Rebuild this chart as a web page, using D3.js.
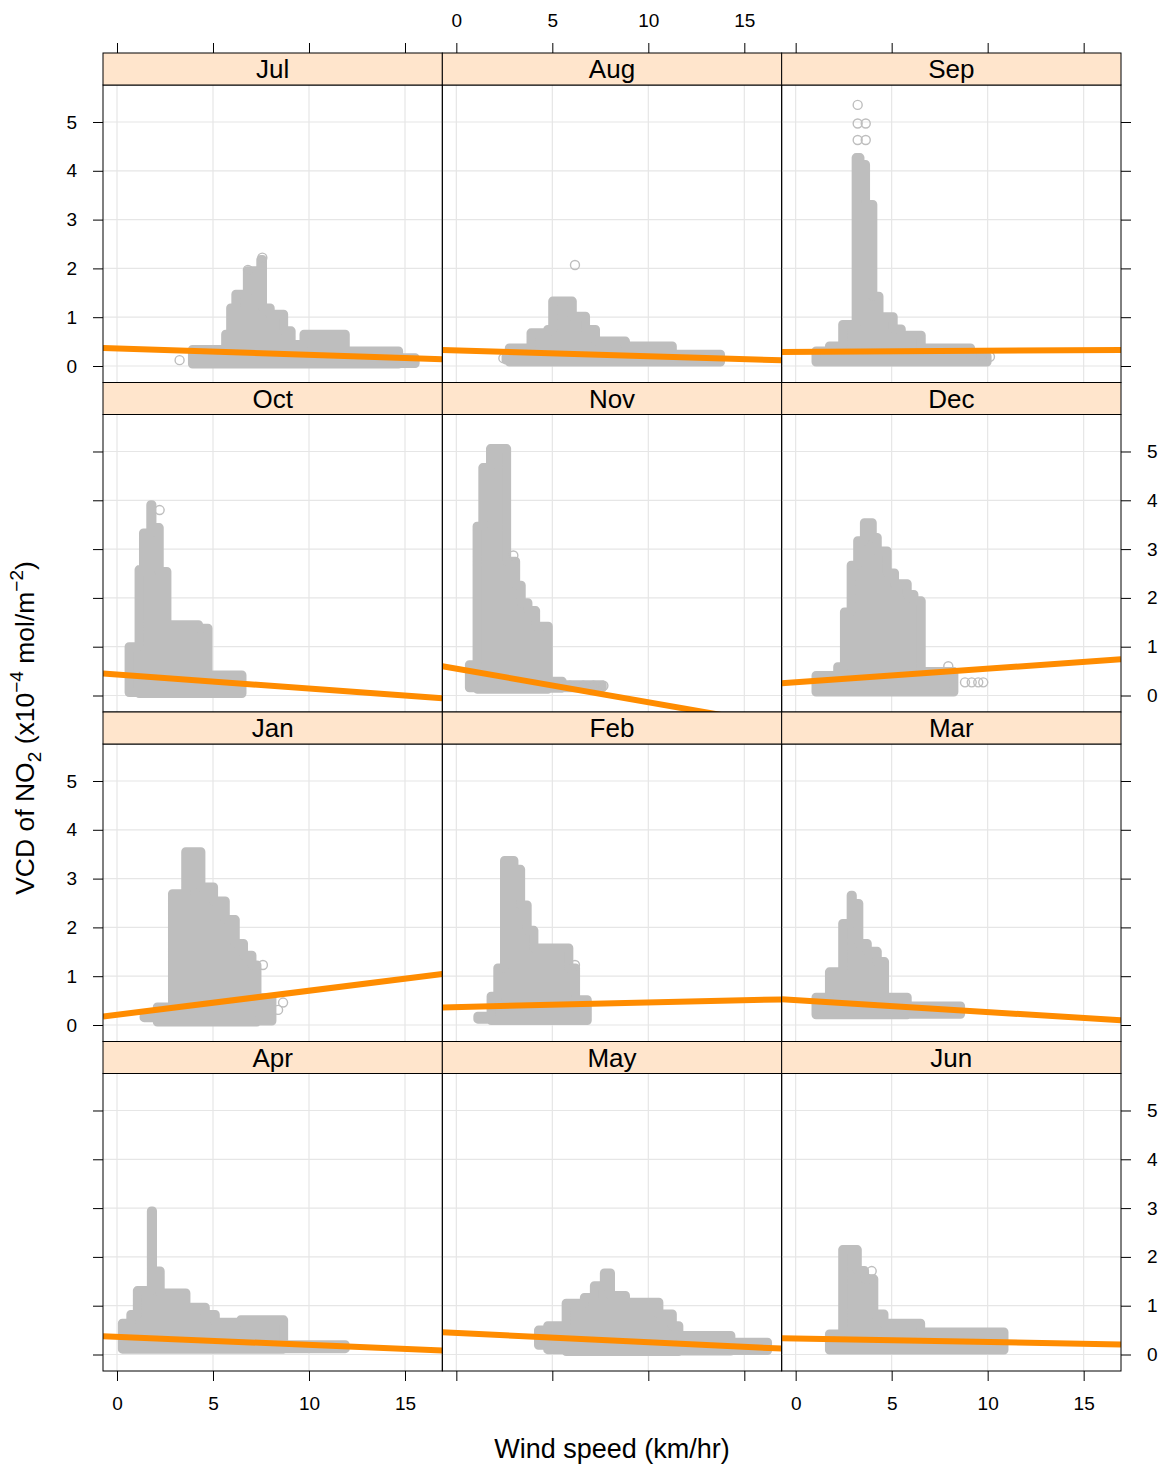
<!DOCTYPE html>
<html>
<head>
<meta charset="utf-8">
<script src="https://cdn.jsdelivr.net/npm/d3@7"></script>
<style>
  html, body { margin: 0; padding: 0; background: #fff; }
  svg { display: block; font-family: "Liberation Sans", Arial, Helvetica, sans-serif; }
</style>
</head>
<body>
<svg id="chart" width="1165" height="1468"></svg>
<script>
// ---------------- DATA ----------------
const months = ["Jul","Aug","Sep","Oct","Nov","Dec","Jan","Feb","Mar","Apr","May","Jun"];
const xTicks = [0, 5, 10, 15];
const yTicks = [0, 1, 2, 3, 4, 5];
const xTickLabels = ["0", "5", "10", "15"];
const yTickLabels = ["0", "1", "2", "3", "4", "5"];
const xTitle = "Wind speed (km/hr)";

// regression line per month: intercept (at 0 km/hr) and slope
const lineIntercept = [0.36, 0.32, 0.29, 0.43, 0.55, 0.27, 0.21, 0.367, 0.51, 0.363, 0.443, 0.329];
const lineSlope = [-0.013, -0.0119, 0.0023, -0.0288, -0.0688, 0.028, 0.0492, 0.0093, -0.0244, -0.0167, -0.019, -0.0073];

// point clouds read as step columns: [wind speed start, lowest VCD, highest VCD]
const profJul = [[3.93,0.04,0.34],[5.66,0.04,0.65],[5.92,0.04,1.19],[6.19,0.04,1.47],[6.79,0.04,1.95],[7.49,0.04,2.18],[7.58,0.04,1.19],[7.98,0.04,1.06],[8.68,0.04,0.72],[9.07,0.04,0.44],[9.74,0.04,0.65],[11.89,0.04,0.31],[14.67,0.05,0.17],[15.53,0.05,0.17]];
const profAug = [[2.59,0.12,0.2],[2.76,0.08,0.37],[3.89,0.08,0.68],[4.76,0.08,0.75],[5.02,0.08,1.33],[6.04,0.08,1.02],[6.73,0.08,0.75],[7.25,0.08,0.51],[8.81,0.08,0.41],[11.25,0.08,0.24],[13.76,0.1,0.24]];
const profSep = [[1.06,0.08,0.31],[1.76,0.08,0.41],[2.45,0.08,0.85],[3.15,0.08,4.27],[3.35,0.08,4.13],[3.64,0.08,3.31],[4.02,0.08,1.43],[4.34,0.08,1.01],[5.08,0.08,0.76],[5.5,0.08,0.63],[6.54,0.08,0.37],[9.11,0.08,0.2],[9.97,0.1,0.2]];
const profOct = [[0.63,0.06,1.0],[1.15,0.04,2.58],[1.38,0.04,3.33],[1.76,0.04,3.91],[1.82,0.04,3.44],[2.2,0.04,2.54],[2.6,0.04,1.45],[4.25,0.04,1.38],[4.74,0.04,0.42],[6.51,0.06,0.42]];
const profNov = [[0.68,0.16,0.63],[1.08,0.13,3.47],[1.38,0.13,4.67],[1.78,0.13,5.06],[2.62,0.13,2.75],[3.09,0.13,2.26],[3.38,0.13,1.9],[3.73,0.13,1.74],[4.13,0.13,1.42],[4.79,0.15,0.29],[5.52,0.16,0.22],[7.6,0.16,0.22]];
const profDec = [[1.06,0.07,0.41],[2.19,0.07,0.59],[2.54,0.07,1.71],[2.89,0.07,2.67],[3.23,0.07,3.17],[3.58,0.07,3.54],[3.99,0.07,3.24],[4.25,0.07,2.96],[4.77,0.07,2.51],[5.15,0.07,2.29],[5.81,0.07,2.07],[6.16,0.07,1.94],[6.54,0.07,0.49],[8.24,0.1,0.49]];
const profJan = [[1.41,0.15,0.18],[2.1,0.06,0.37],[2.89,0.06,2.69],[3.58,0.06,3.55],[4.37,0.06,2.83],[5.03,0.06,2.54],[5.64,0.06,2.16],[6.16,0.06,1.67],[6.59,0.06,1.43],[7.03,0.06,1.23],[7.29,0.08,0.56],[8.07,0.1,0.56]];
const profFeb = [[1.12,0.12,0.18],[1.81,0.09,0.59],[2.16,0.09,1.17],[2.51,0.09,3.37],[3.0,0.09,3.19],[3.35,0.09,2.46],[3.69,0.09,1.94],[4.04,0.09,1.58],[5.86,0.09,1.17],[6.21,0.09,0.52],[6.82,0.1,0.52]];
const profMar = [[1.06,0.21,0.57],[1.76,0.21,1.09],[2.45,0.21,2.08],[2.89,0.21,2.66],[2.95,0.21,2.49],[3.29,0.21,1.67],[3.73,0.21,1.51],[4.25,0.21,1.3],[4.63,0.21,0.57],[5.81,0.22,0.39],[8.59,0.25,0.39]];
const profApr = [[0.28,0.11,0.64],[0.72,0.11,0.82],[1.06,0.11,1.31],[1.79,0.11,2.94],[1.85,0.11,1.71],[2.25,0.11,1.26],[3.59,0.11,0.97],[4.6,0.11,0.82],[5.12,0.11,0.66],[6.44,0.11,0.71],[8.68,0.12,0.2],[11.89,0.13,0.2]];
const profMay = [[4.28,0.19,0.5],[4.76,0.1,0.59],[5.72,0.06,1.05],[6.67,0.06,1.17],[7.19,0.06,1.41],[7.71,0.06,1.67],[8.03,0.06,1.21],[8.81,0.06,1.07],[10.55,0.06,0.83],[11.25,0.06,0.59],[11.59,0.07,0.39],[14.3,0.08,0.25],[16.21,0.1,0.25]];
const profJun = [[1.76,0.09,0.42],[2.45,0.09,2.15],[3.21,0.09,1.72],[3.59,0.09,1.55],[4.07,0.09,0.83],[4.6,0.09,0.64],[6.51,0.09,0.46],[10.85,0.1,0.46]];

// isolated points visible as rings: [wind speed, VCD]
const ringsJul = [[3.26,0.12],[7.57,2.22],[6.82,1.97]];
const ringsAug = [[6.18,2.07],[2.45,0.16]];
const ringsSep = [[3.23,5.35],[3.23,4.97],[3.65,4.97],[3.23,4.63],[3.65,4.63],[9.69,0.19],[10.12,0.19]];
const ringsOct = [[2.22,3.8]];
const ringsNov = [[2.97,2.87],[5.92,0.2],[6.61,0.2],[7.14,0.2],[7.66,0.2]];
const ringsDec = [[7.95,0.6],[8.82,0.27],[9.17,0.27],[9.51,0.27],[9.77,0.27]];
const ringsJan = [[7.6,1.23],[8.65,0.46],[8.39,0.31]];
const ringsFeb = [[6.18,1.23]];
const ringsMar = [];
const ringsApr = [];
const ringsMay = [];
const ringsJun = [[3.96,1.71]];

const profiles = [profJul, profAug, profSep, profOct, profNov, profDec, profJan, profFeb, profMar, profApr, profMay, profJun];
const rings = [ringsJul, ringsAug, ringsSep, ringsOct, ringsNov, ringsDec, ringsJan, ringsFeb, ringsMar, ringsApr, ringsMay, ringsJun];

// ---------------- LAYOUT ----------------
const svg = d3.select("#chart");
const L = 103, R = 1121, T = 53, B = 1371;
const nCols = 3, nRows = 4, stripH = 32;
const colW = (R - L) / nCols, rowH = (B - T) / nRows;
const xDomain = [-0.729, 16.945];
const yDomain = [-0.338, 5.758];
const ptColor = "#BEBEBE", lineColor = "#FF8C00", gridColor = "#E6E6E6";
const r = 4.5;

const defs = svg.append("defs");

function xs(c) { const x0 = L + c * colW; return d3.scaleLinear().domain(xDomain).range([x0, x0 + colW]); }
function ys(rw) { const top = T + rw * rowH + stripH, bot = T + (rw + 1) * rowH; return d3.scaleLinear().domain(yDomain).range([bot, top]); }

months.forEach((m, i) => {
  const rw = Math.floor(i / nCols), c = i % nCols;
  const x = xs(c), y = ys(rw);
  const x0 = L + c * colW, rowTop = T + rw * rowH;
  const pTop = rowTop + stripH, pBot = rowTop + rowH;
  const g = svg.append("g");

  defs.append("clipPath").attr("id", "clip" + i)
    .append("rect").attr("x", x0).attr("y", pTop).attr("width", colW).attr("height", pBot - pTop);

  const inner = g.append("g").attr("clip-path", "url(#clip" + i + ")");
  // grid
  inner.selectAll("line.gx").data(xTicks).join("line")
    .attr("x1", d => x(d)).attr("x2", d => x(d)).attr("y1", pTop).attr("y2", pBot)
    .attr("stroke", gridColor).attr("stroke-width", 1.2);
  inner.selectAll("line.gy").data(yTicks).join("line")
    .attr("x1", x0).attr("x2", x0 + colW).attr("y1", d => y(d)).attr("y2", d => y(d))
    .attr("stroke", gridColor).attr("stroke-width", 1.2);

  // point cloud
  const area = d3.area().x(d => x(d[0])).y0(d => y(d[1])).y1(d => y(d[2])).curve(d3.curveStepAfter);
  inner.append("path").datum(profiles[i]).attr("d", area)
    .attr("fill", ptColor).attr("stroke", ptColor).attr("stroke-width", 2 * r).attr("stroke-linejoin", "round");
  inner.selectAll("circle").data(rings[i]).join("circle")
    .attr("cx", d => x(d[0])).attr("cy", d => y(d[1])).attr("r", r)
    .attr("fill", "none").attr("stroke", ptColor).attr("stroke-width", 1.4);

  // regression line
  const a = lineIntercept[i], b = lineSlope[i];
  inner.append("line")
    .attr("x1", x(xDomain[0])).attr("y1", y(a + b * xDomain[0]))
    .attr("x2", x(xDomain[1])).attr("y2", y(a + b * xDomain[1]))
    .attr("stroke", lineColor).attr("stroke-width", 6);

  // panel border
  g.append("rect").attr("x", x0).attr("y", pTop).attr("width", colW).attr("height", pBot - pTop)
    .attr("fill", "none").attr("stroke", "#000").attr("stroke-width", 1);
  // strip
  g.append("rect").attr("x", x0).attr("y", rowTop).attr("width", colW).attr("height", stripH)
    .attr("fill", "#FFE5CC").attr("stroke", "#000").attr("stroke-width", 1);
  g.append("text").attr("x", x0 + colW / 2).attr("y", rowTop + stripH / 2 + 9)
    .attr("text-anchor", "middle").attr("font-size", 26).attr("fill", "#000").text(m);
});

// ---------------- AXES ----------------
function styleAxis(sel) {
  sel.select(".domain").remove();
  sel.selectAll(".tick line").attr("stroke", "#000").attr("stroke-width", 1);
  sel.selectAll(".tick text").attr("font-size", 19).attr("fill", "#000")
    .attr("font-family", "Liberation Sans, Arial, sans-serif");
}
for (let c = 0; c < nCols; c++) {
  const x = xs(c);
  const showTop = (c === 1), showBot = (c !== 1);
  svg.append("g").attr("transform", `translate(0,${T})`)
    .call(d3.axisTop(x).tickValues(xTicks).tickSize(10).tickPadding(16)
      .tickFormat((d, k) => showTop ? xTickLabels[k] : ""))
    .call(styleAxis);
  svg.append("g").attr("transform", `translate(0,${B})`)
    .call(d3.axisBottom(x).tickValues(xTicks).tickSize(10).tickPadding(16)
      .tickFormat((d, k) => showBot ? xTickLabels[k] : ""))
    .call(styleAxis);
}
for (let rw = 0; rw < nRows; rw++) {
  const y = ys(rw);
  const showLeft = (rw % 2 === 0), showRight = (rw % 2 === 1);
  svg.append("g").attr("transform", `translate(${L},0)`)
    .call(d3.axisLeft(y).tickValues(yTicks).tickSize(10).tickPadding(16)
      .tickFormat((d, k) => showLeft ? yTickLabels[k] : ""))
    .call(styleAxis);
  svg.append("g").attr("transform", `translate(${R},0)`)
    .call(d3.axisRight(y).tickValues(yTicks).tickSize(10).tickPadding(16)
      .tickFormat((d, k) => showRight ? yTickLabels[k] : ""))
    .call(styleAxis);
}

// ---------------- TITLES ----------------
svg.append("text").attr("x", (L + R) / 2).attr("y", 1458).attr("text-anchor", "middle")
  .attr("font-size", 27).attr("fill", "#000").text(xTitle);

const yt = svg.append("text").attr("transform", "translate(34,728) rotate(-90)")
  .attr("text-anchor", "middle").attr("font-size", 26.5).attr("fill", "#000");
yt.append("tspan").text("VCD of NO");
yt.append("tspan").attr("font-size", 19).attr("dy", 7).text("2");
yt.append("tspan").attr("dy", -7).text(" (x10");
yt.append("tspan").attr("font-size", 19).attr("dy", -11).text("\u22124");
yt.append("tspan").attr("dy", 11).text(" mol/m");
yt.append("tspan").attr("font-size", 19).attr("dy", -11).text("\u22122");
yt.append("tspan").attr("dy", 11).text(")");
</script>
</body>
</html>
